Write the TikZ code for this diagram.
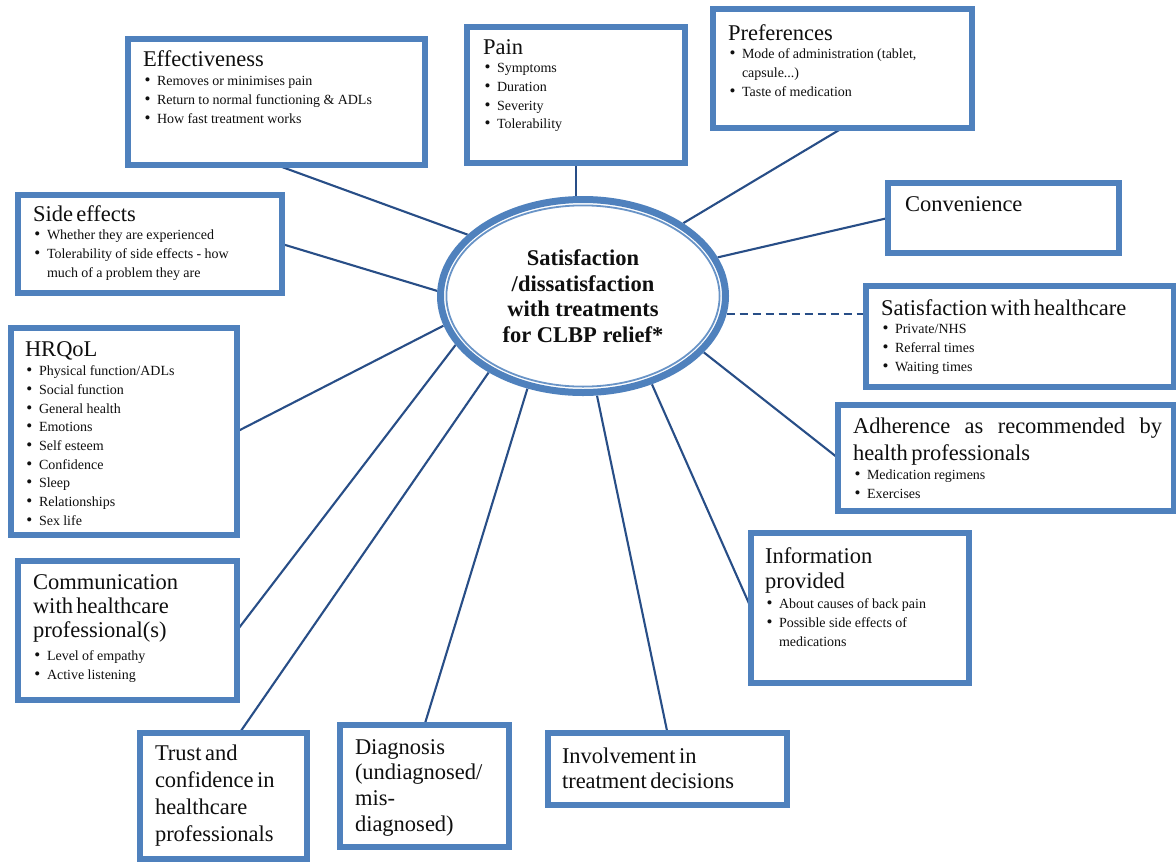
\documentclass[tikz,border=0pt]{standalone}
\usepackage{fontspec}
\setmainfont{Liberation Serif}
\usetikzlibrary{shapes.geometric}

\definecolor{boxblue}{RGB}{79,129,189}
\definecolor{linkblue}{RGB}{40,78,135}
\definecolor{inkblack}{RGB}{15,15,15}

\pgfdeclarelayer{back}
\pgfsetlayers{back,main}

% heading text (optional argument: line pitch)
\newcommand\hd[2][25]{{\fontsize{22.5}{#1}\selectfont #2\par}}
% bulleted entry with hanging indent
\newcommand\dotmark{{\fontsize{17}{0}\selectfont\textbullet}}
\newcommand\itm[1]{{\fontsize{14}{18.7}\selectfont\hangindent=14pt\hangafter=1\noindent\makebox[14pt][l]{\hspace{1.5pt}\dotmark}#1\par}}

\tikzset{
  box/.style={rectangle, draw=boxblue, line width=6pt, fill=white, inner sep=0pt, outer sep=0pt},
  txt/.style={anchor=base west, inner sep=0pt, outer sep=0pt, align=left, text=inkblack},
  link/.style={draw=linkblue, line width=2.1pt},
}

\begin{document}
\begin{tikzpicture}[x=1pt, y=-1pt]
\useasboundingbox (0,0) rectangle (1176,863);
\begin{pgfonlayer}{back}
  \fill[white] (0,0) rectangle (1176,863);
\end{pgfonlayer}

% central ellipse with a thick-thin double rim
\node[ellipse, fill=white, minimum width=292pt, minimum height=200pt, inner sep=0pt, outer sep=0pt,
      align=center, text=inkblack, font=\fontsize{22.5}{25.5}\selectfont\bfseries] (ell) at (583,296)
  {Satisfaction\\/dissatisfaction\\with treatments\\for CLBP relief*};
\draw[boxblue, line width=7pt] (ell.center) ellipse [x radius=142.5pt, y radius=96.5pt];
\draw[boxblue!85, line width=1.8pt] (ell.center) ellipse [x radius=136.6pt, y radius=90.6pt];

% boxes
\node[box, minimum width=297pt, minimum height=126pt] (eff)   at (276.5,102)  {};
\node[box, minimum width=218pt, minimum height=136pt] (pain)  at (576,95)     {};
\node[box, minimum width=259pt, minimum height=119pt] (pref)  at (842.5,68.5) {};
\node[box, minimum width=231pt, minimum height=70pt]  (conv)  at (1003.5,218) {};
\node[box, minimum width=264pt, minimum height=98pt]  (side)  at (150,244)    {};
\node[box, minimum width=308pt, minimum height=101pt] (sat)   at (1020,336.5) {};
\node[box, minimum width=336pt, minimum height=106pt] (adh)   at (1006,458)   {};
\node[box, minimum width=226pt, minimum height=207pt] (hrq)   at (124,431.5)  {};
\node[box, minimum width=218pt, minimum height=150pt] (info)  at (860,608)    {};
\node[box, minimum width=219pt, minimum height=139pt] (comm)  at (127.5,630.5){};
\node[box, minimum width=167pt, minimum height=126pt] (trust) at (223.5,796)  {};
\node[box, minimum width=169pt, minimum height=122pt] (diag)  at (424.5,786)  {};
\node[box, minimum width=239pt, minimum height=72pt]  (inv)   at (667.5,769)  {};

% box texts
\node[txt, text width=270pt] (effT) at (143,66)
  {\hd{Effectiveness}\vspace{1pt}\itm{Removes or minimises pain}\itm{Return to normal functioning \& ADLs}\itm{How fast treatment works}};
\node[txt, text width=190pt] (painT) at (483,54)
  {\hd{Pain}\itm{Symptoms}\itm{Duration}\itm{Severity}\itm{Tolerability}};
\node[txt, text width=235pt] (prefT) at (728,40)
  {\hd{Preferences}\itm{Mode of administration (tablet,\newline capsule...)}\itm{Taste of medication}};
\node[txt, text width=200pt] (convT) at (905,211)
  {\hd{Convenience}};
\node[txt, text width=245pt] (sideT) at (33,221)
  {\hd{Side effects}\itm{Whether they are experienced}\itm{Tolerability of side effects - how\newline much of a problem they are}};
\node[txt, text width=285pt] (satT) at (881,315)
  {\hd{Satisfaction with healthcare}\itm{Private/NHS}\itm{Referral times}\itm{Waiting times}};
\node[txt, text width=309pt] (adhT) at (853,433)
  {\hd[27]{\makebox[309pt][l]{Adherence\hfill as\hfill recommended\hfill by}\\health professionals}\vspace{1pt}\itm{Medication regimens}\itm{Exercises}};
\node[txt, text width=200pt] (hrqT) at (25,356)
  {\hd{HRQoL}\vspace{1pt}\itm{Physical function/ADLs}\itm{Social function}\itm{General health}\itm{Emotions}\itm{Self esteem}\itm{Confidence}\itm{Sleep}\itm{Relationships}\itm{Sex life}};
\node[txt, text width=200pt] (infoT) at (765,563)
  {\hd{Information\\provided}\vspace{2pt}\itm{About causes of back pain}\itm{Possible side effects of\newline medications}};
\node[txt, text width=200pt] (commT) at (33,589)
  {\hd[24]{Communication\\with healthcare\\professional(s)}\vspace{5pt}\itm{Level of empathy}\itm{Active listening}};
\node[txt, text width=150pt] (trustT) at (155,760)
  {\hd[27]{Trust and\\confidence in\\healthcare\\professionals}};
\node[txt, text width=150pt] (diagT) at (355,754)
  {\hd[25.7]{Diagnosis\\(undiagnosed/\\mis-\\diagnosed)}};
\node[txt, text width=215pt] (invT) at (562,763)
  {\hd{Involvement in\\treatment decisions}};

% connectors to the ellipse
\begin{pgfonlayer}{back}
  \draw[link] (eff.south) -- (ell.152);
  \draw[link] (pain.south) -- (pain.south |- ell.north);
  \draw[link] (pref.south) -- (ell.36);
  \draw[link] (conv.west) -- (ell.16);
  \draw[link, line width=2pt, dash pattern=on 8pt off 5pt] (ell.-7) -- (ell.-7 -| sat.west);
  \draw[link] (side.east) -- (ell.178);
  \draw[link] (hrq.east) -- (ell.192);
  \draw[link] (comm.east) -- (ell.201);
  \draw[link] ([xshift=16pt]trust.north) -- (ell.219);
  \draw[link] (diag.north) -- (ell.239);
  \draw[link] (inv.north) -- (ell.278);
  \draw[link] (info.west) -- (ell.308);
  \draw[link] (adh.west) -- (ell.335);
\end{pgfonlayer}
\end{tikzpicture}
\end{document}
